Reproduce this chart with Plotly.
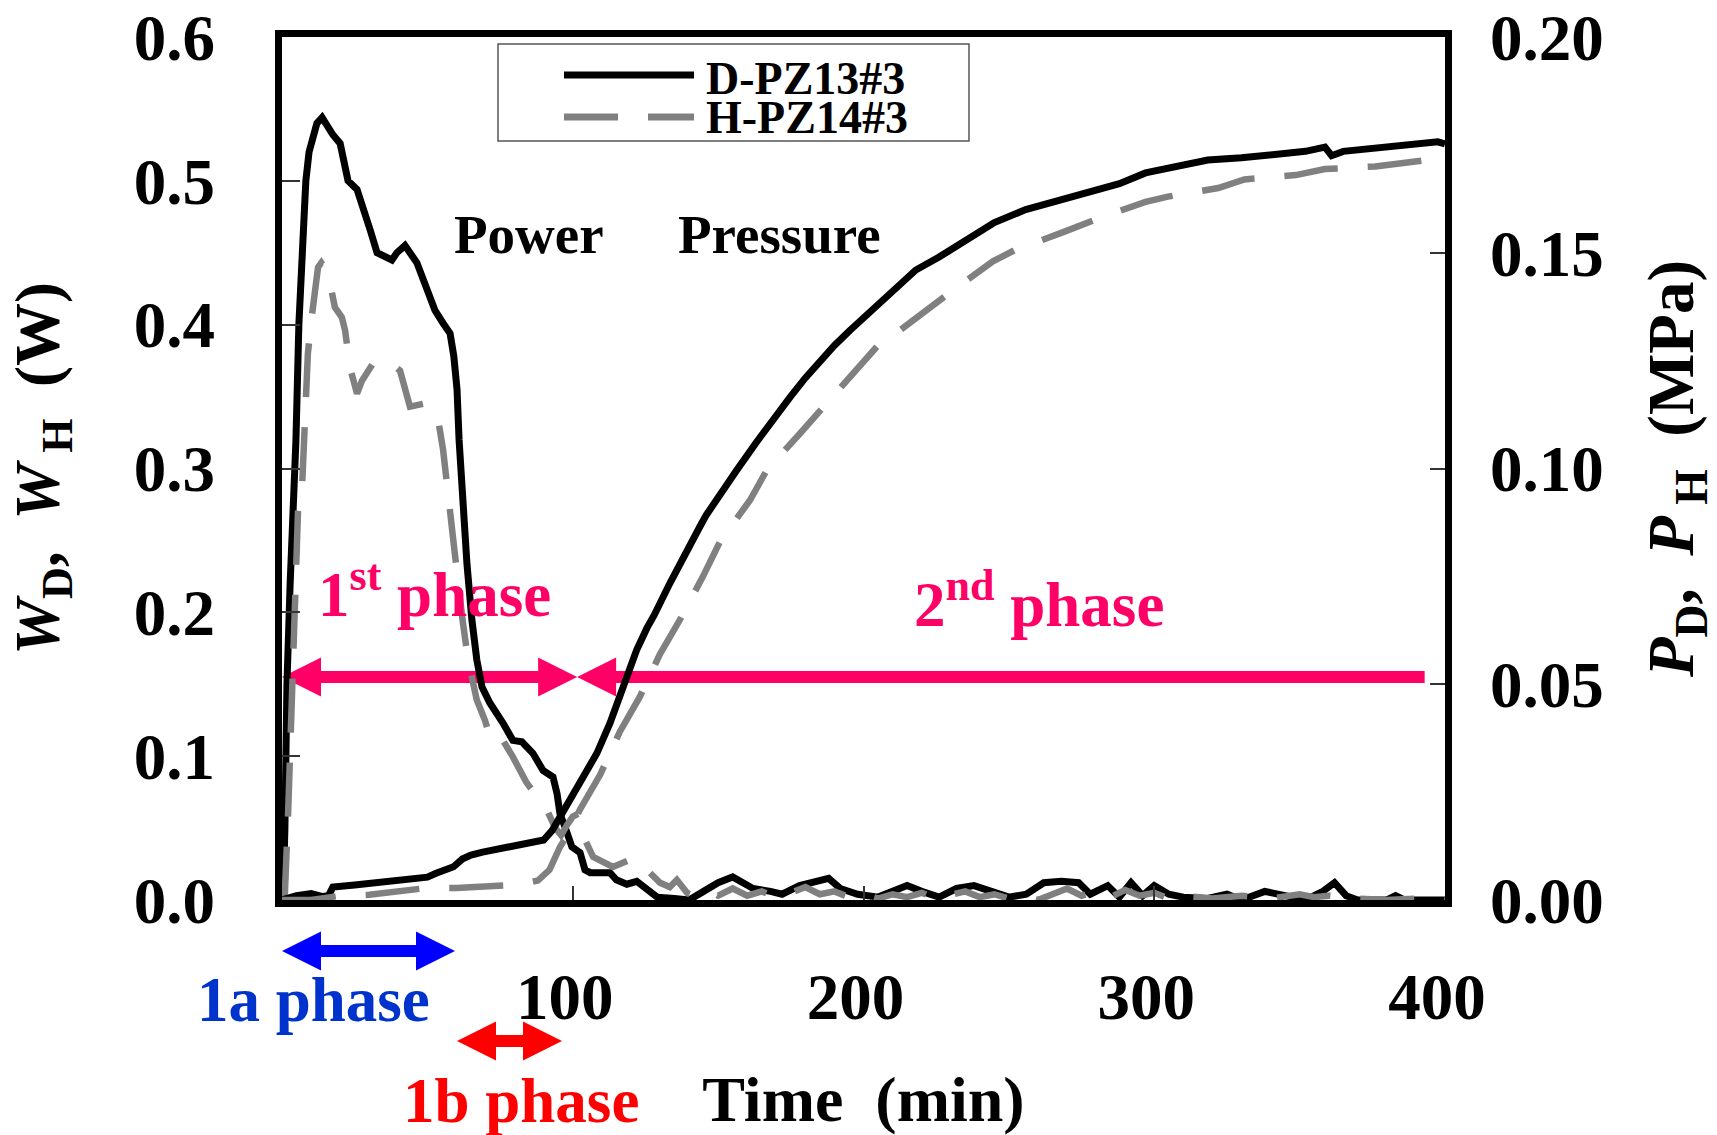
import plotly.graph_objects as go

# ---------------- data ----------------
series_names = ["D-PZ13#3", "H-PZ14#3"]

# Power W_D (W) of D-PZ13#3, left axis
time_power_d = [0, 0.5, 1.0, 1.7, 2.8, 3.8, 4.8, 5.8, 7.0, 8.2, 9.3, 10.3, 12.0, 13.8, 15.5, 17.5,
                20.0, 22.7, 25.8, 28.5, 30.3, 32.7, 35.4, 37.8, 39.5, 42.3, 46.4, 49.9, 52.6, 55.4,
                57.8, 59.1, 60.2, 60.9, 61.9, 63.6, 65.3, 67.0, 68.8, 71.5, 76.0, 79.4, 82.5, 86.3,
                89.8, 93.2, 94.6, 95.6, 98.0, 99.7, 102.5, 104.2, 106.0, 110.4, 112.8, 115.0, 118.6,
                122.0, 125.5, 129.0, 135, 140, 145, 150, 155, 158, 162, 168, 172, 178, 183, 188, 192,
                198, 205, 210, 215, 220, 226, 232, 238, 244, 250, 256, 262, 268, 274, 278, 284, 288,
                292, 296, 300, 305, 310, 318, 325, 330, 338, 345, 352, 358, 362, 366, 370, 380, 383,
                386, 400]
power_d = [0.0, 0.01, 0.05, 0.15, 0.22, 0.27, 0.32, 0.40, 0.46, 0.50, 0.52, 0.528, 0.54, 0.544,
           0.538, 0.532, 0.526, 0.50, 0.494, 0.475, 0.466, 0.45, 0.448, 0.445, 0.45, 0.455, 0.443,
           0.424, 0.41, 0.401, 0.394, 0.378, 0.355, 0.32, 0.28, 0.234, 0.195, 0.167, 0.148, 0.137,
           0.123, 0.111, 0.110, 0.102, 0.090, 0.0855, 0.074, 0.06, 0.047, 0.037, 0.033, 0.021,
           0.019, 0.0195, 0.019, 0.014, 0.011, 0.013, 0.007, 0.002, 0.001, 0.0, 0.006, 0.012,
           0.016, 0.012, 0.008, 0.006, 0.004, 0.010, 0.012, 0.015, 0.008, 0.004, 0.002, 0.006,
           0.010, 0.006, 0.002, 0.008, 0.010, 0.006, 0.002, 0.004, 0.012, 0.013, 0.012, 0.004,
           0.010, 0.002, 0.012, 0.003, 0.010, 0.004, 0.002, 0.001, 0.004, 0.0, 0.006, 0.003, 0.0,
           0.006, 0.012, 0.003, 0.0, 0.0, 0.003, 0.0, 0.0]

# Power W_H (W) of H-PZ14#3, left axis
time_power_h = [0, 1.0, 2.1, 3.4, 4.5, 5.5, 6.9, 7.9, 8.9, 10.2, 11.3, 12.4, 13.5, 15.0, 16.5, 18.2,
                20.6, 21.7, 23.4, 25.8, 27.5, 31.3, 34.7, 37.1, 40.6, 44.0, 48.5, 53.3, 55.4, 57.1,
                58.8, 60.5, 62.2, 64.0, 67.0, 69.8, 72.2, 76.0, 79.4, 81.1, 84.0, 87.6, 91.1, 94.0,
                96.0, 98.0, 100.0, 102.0, 103.5, 107.0, 110.4, 113.8, 119.7, 123.0, 126.5, 130.0,
                133.4, 135.8, 139.3, 143, 147, 150, 155, 160, 165, 170, 175, 180, 185, 190, 195, 200,
                205, 210, 215, 220, 225, 230, 235, 240, 245, 250, 255, 260, 265, 270, 275, 280, 285,
                290, 295, 300, 305, 310, 320, 330, 340, 350, 355, 360, 370, 380, 390, 400]
power_h = [0.0, 0.005, 0.06, 0.13, 0.20, 0.27, 0.287, 0.345, 0.38, 0.405, 0.426, 0.44, 0.443, 0.438,
           0.429, 0.412, 0.405, 0.396, 0.37, 0.352, 0.361, 0.373, 0.371, 0.374, 0.368, 0.343, 0.345,
           0.339, 0.313, 0.28, 0.245, 0.222, 0.193, 0.167, 0.139, 0.125, 0.109, 0.111, 0.0995,
           0.0925, 0.082, 0.072, 0.0626, 0.050, 0.045, 0.052, 0.058, 0.060, 0.045, 0.030, 0.026,
           0.023, 0.028, 0.019, 0.019, 0.012, 0.009, 0.014, 0.005, 0.002, 0.006, 0.003, 0.008,
           0.003, 0.006, 0.002, 0.005, 0.009, 0.004, 0.006, 0.002, 0.004, 0.001, 0.004, 0.002,
           0.005, 0.001, 0.003, 0.006, 0.002, 0.004, 0.001, 0.003, 0.0, 0.004, 0.008, 0.003, 0.006,
           0.002, 0.007, 0.003, 0.005, 0.001, 0.003, 0.001, 0.003, 0.001, 0.004, 0.002, 0.003,
           0.001, 0.0, 0.001, 0.0]

# Pressure P_D (MPa) of D-PZ13#3, right axis
time_press_d = [0, 5, 10, 14, 16, 17.5, 25, 30, 36, 42, 50, 53, 56, 59, 62, 65, 69, 76, 83, 90, 93,
                95.6, 99, 103.5, 108.3, 112.8, 115.2, 117.3, 122, 125.5, 128, 133.4, 136, 139.3,
                143.7, 146, 150, 154, 156.5, 163.3, 169, 174.7, 180, 184, 190, 195.3, 203.2, 212.5,
                218, 226, 235.9, 245, 255.8, 267, 278.5, 288, 297, 308, 318.4, 330, 343.5, 352,
                358.7, 361, 365, 372, 381.4, 390, 397.5, 400]
press_d = [0.0, 0.001, 0.0015, 0.0008, 0.001, 0.003, 0.0035, 0.0039, 0.0045, 0.005, 0.0053, 0.0062,
           0.007, 0.0077, 0.0095, 0.0104, 0.0111, 0.012, 0.0127, 0.0139, 0.0162, 0.0192, 0.0232,
           0.0278, 0.034, 0.041, 0.0455, 0.0495, 0.058, 0.063, 0.066, 0.0734, 0.0765, 0.081, 0.0865,
           0.0893, 0.0935, 0.0972, 0.0997, 0.1062, 0.1115, 0.1165, 0.121, 0.1242, 0.1285, 0.132,
           0.137, 0.1425, 0.146, 0.149, 0.153, 0.157, 0.160, 0.162, 0.164, 0.166, 0.1685, 0.170,
           0.1715, 0.172, 0.173, 0.1735, 0.1745, 0.1725, 0.1735, 0.174, 0.1747, 0.175, 0.1757,
           0.1752]

# Pressure P_H (MPa) of H-PZ14#3, right axis
time_press_h = [0, 10, 15, 20, 30, 40, 50, 60, 70, 80, 88, 92, 95.6, 99, 102.5, 109.4, 116.2, 123,
                130, 136.9, 144.8, 150.6, 161, 166.8, 178, 186, 198.8, 205.6, 212.5, 220.8, 229.4,
                244.5, 252, 269.6, 281, 297, 304.7, 322, 331, 348.7, 358.7, 376, 387.5, 400]
press_h = [0, 0, 0.0005, 0.001, 0.0012, 0.002, 0.0028, 0.0028, 0.003, 0.0035, 0.0045, 0.007, 0.0123,
           0.016, 0.021, 0.029, 0.039, 0.047, 0.057, 0.065, 0.075, 0.083, 0.0927, 0.0997, 0.108,
           0.114, 0.1235, 0.129, 0.132, 0.136, 0.1406, 0.148, 0.1506, 0.155, 0.158, 0.1618, 0.163,
           0.165, 0.167, 0.168, 0.1694, 0.170, 0.171, 0.172]

# axes
x_ticks = [100, 200, 300, 400]
x_ticktext = ["100", "200", "300", "400"]
y_left_ticks = [0.0, 0.1, 0.2, 0.3, 0.4, 0.5, 0.6]
y_right_ticks = [0.0, 0.05, 0.10, 0.15, 0.20]

# phase spans (min)
phase_1st = [0.0, 101.5]
phase_2nd = [101.5, 393.0]
phase_1a = [0.0, 59.5]
phase_1b = [60.2, 96.3]

# ---------------- geometry / style ----------------
W, H = 1717, 1135
ML, MR, MT, MB = 282, 272, 37, 235
PW, PH = W - ML - MR, H - MT - MB
X_RANGE = [0, 400]
PX_PER_MIN = PW / (X_RANGE[1] - X_RANGE[0])

FONT = "Liberation Serif"
PINK = "#FF0066"
BLUE = "#0000FF"
BLUE_TXT = "#0033CC"
RED = "#FF0000"
GRAY = "#808080"


def px_x(px):
    return (px - ML) / PW


def px_y(py):
    return (H - MB - py) / PH


def font(size, color="black"):
    return dict(family=FONT, size=size, color=color, weight="bold")


fig = go.Figure()
fig.add_trace(go.Scatter(x=time_power_d, y=power_d, mode="lines", name=series_names[0],
                         line=dict(color="black", width=7), yaxis="y"))
fig.add_trace(go.Scatter(x=time_press_d, y=press_d, mode="lines", name=series_names[0],
                         line=dict(color="black", width=7), yaxis="y2"))
fig.add_trace(go.Scatter(x=time_power_h, y=power_h, mode="lines", name=series_names[1],
                         line=dict(color=GRAY, width=6.5, dash="54px,30px"), yaxis="y"))
fig.add_trace(go.Scatter(x=time_press_h, y=press_h, mode="lines", name=series_names[1],
                         line=dict(color=GRAY, width=6.5, dash="54px,30px"), yaxis="y2"))

shapes = []
HEAD_L, HEAD_HALF, SHAFT = 39, 19.5, 12


def double_arrow(x0, x1, y, yref, color, left=True, right=True, layer="above"):
    inset = 20 / PX_PER_MIN
    xa = x0 + inset if left else x0
    xb = x1 - inset if right else x1
    shapes.append(dict(type="line", xref="x", yref=yref, x0=xa, x1=xb, y0=y, y1=y,
                       line=dict(color=color, width=SHAFT), layer=layer))
    if left:
        shapes.append(dict(type="path", xref="x", yref=yref, xsizemode="pixel", ysizemode="pixel",
                           xanchor=x0, yanchor=y,
                           path=f"M0,0 L{HEAD_L},{HEAD_HALF} L{HEAD_L},{-HEAD_HALF} Z",
                           fillcolor=color, line=dict(width=0), layer=layer))
    if right:
        shapes.append(dict(type="path", xref="x", yref=yref, xsizemode="pixel", ysizemode="pixel",
                           xanchor=x1, yanchor=y,
                           path=f"M0,0 L{-HEAD_L},{HEAD_HALF} L{-HEAD_L},{-HEAD_HALF} Z",
                           fillcolor=color, line=dict(width=0), layer=layer))


arrow_level = 0.155  # W level of the phase arrows
double_arrow(phase_1st[0], phase_1st[1], arrow_level, "y", PINK, layer="below")
double_arrow(phase_2nd[0], phase_2nd[1], arrow_level, "y", PINK, right=False, layer="below")
double_arrow(phase_1a[0], phase_1a[1], px_y(951), "paper", BLUE)
double_arrow(phase_1b[0], phase_1b[1], px_y(1041), "paper", RED)

# legend (drawn)
shapes.append(dict(type="rect", xref="paper", yref="paper", x0=px_x(498), x1=px_x(969),
                   y0=px_y(141), y1=px_y(44), line=dict(color="#555555", width=1.5),
                   fillcolor="white", layer="above"))
shapes.append(dict(type="line", xref="paper", yref="paper", x0=px_x(564), x1=px_x(694),
                   y0=px_y(75), y1=px_y(75), line=dict(color="black", width=7)))
shapes.append(dict(type="line", xref="paper", yref="paper", x0=px_x(564), x1=px_x(694),
                   y0=px_y(117), y1=px_y(117), line=dict(color=GRAY, width=7, dash="54px,30px")))


def label(text, x, y, size, color="black", xref="x", yref="y", xanchor="center"):
    return dict(text=text, xref=xref, yref=yref, x=x, y=y, xanchor=xanchor, yanchor="middle",
                showarrow=False, font=font(size, color))


annotations = [
    label(series_names[0], px_x(704), px_y(78), 46, xref="paper", yref="paper", xanchor="left"),
    label(series_names[1], px_x(704), px_y(118), 46, xref="paper", yref="paper", xanchor="left"),
    label("Power", 85, 0.463, 55),
    label("Pressure", 171, 0.463, 55),
    label("1<sup>st</sup> phase", 52.3, 0.215, 63, PINK),
    label("2<sup>nd</sup> phase", 260.4, 0.208, 63, PINK),
    label("1a phase", 10.7, px_y(1000), 63, BLUE_TXT, yref="paper"),
    label("1b phase", 82.2, px_y(1101), 63, RED, yref="paper"),
]

axis_common = dict(showgrid=False, zeroline=False, ticks="inside", tickcolor="#333333",
                   tickwidth=1.5, tickfont=font(65))

fig.update_layout(
    width=W, height=H,
    margin=dict(l=ML, r=MR, t=MT, b=MB, autoexpand=False),
    paper_bgcolor="white", plot_bgcolor="white",
    showlegend=False,
    xaxis=dict(range=X_RANGE, tickvals=x_ticks, ticktext=x_ticktext, ticklen=14,
               showline=True, linecolor="black", linewidth=7, mirror=True,
               ticklabelstandoff=34, ticklabelshift=-8,
               title=dict(text="Time  (min)", font=font(64), standoff=50),
               **axis_common),
    yaxis=dict(range=[0, 0.6], tickvals=y_left_ticks, tickformat=".1f", ticklen=18,
               showline=True, linecolor="black", linewidth=7, mirror=True,
               ticklabelstandoff=47,
               title=dict(text="<i>W</i><sub>D</sub>,  <i>W</i><sub> H</sub>  (W)", font=font(63),
                          standoff=56),
               **axis_common),
    yaxis2=dict(range=[0, 0.2], tickvals=y_right_ticks, tickformat=".2f", ticklen=15,
                overlaying="y", side="right", showline=False,
                ticklabelstandoff=44,
                title=dict(text="<i>P</i><sub>D</sub>,  <i>P</i><sub> H</sub>  (MPa)", font=font(65),
                           standoff=72),
                **axis_common),
    shapes=shapes,
    annotations=annotations,
)

fig.write_html("out.html", config={"displayModeBar": False})
